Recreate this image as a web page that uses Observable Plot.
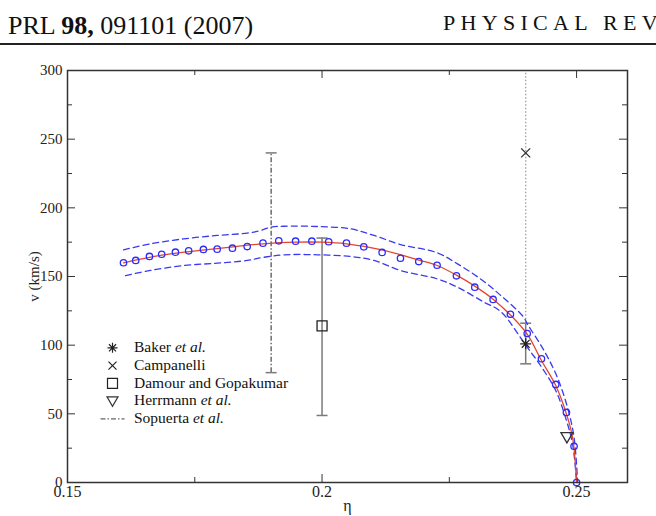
<!DOCTYPE html>
<html><head><meta charset="utf-8">
<script src="https://cdn.jsdelivr.net/npm/d3@7"></script>
<script src="https://cdn.jsdelivr.net/npm/@observablehq/plot@0.6"></script>
<style>
html,body{margin:0;padding:0;background:#fff;}
#wrap{position:relative;width:656px;height:516px;overflow:hidden;font-family:'Liberation Serif','Times New Roman',serif;color:#111;}
#wrap svg{position:absolute;left:0;top:0;}
#wrap svg, #wrap svg text, #wrap svg g{font-family:'Liberation Serif','Times New Roman',serif !important;}
.hdr1{position:absolute;left:8px;top:13px;font-size:26px;line-height:26px;white-space:nowrap;}
.hdr2{position:absolute;left:443px;top:12px;font-size:22px;line-height:22px;letter-spacing:5.3px;white-space:nowrap;}
.rule{position:absolute;left:0;top:43px;width:656px;height:2px;background:#222;}
.leg{position:absolute;left:134px;top:338px;font-size:15.5px;line-height:17.75px;white-space:nowrap;color:#111;font-family:'Liberation Serif','Times New Roman',serif !important;}
</style>
</head><body>
<div id="wrap">
  <div class="hdr1">PRL <b>98,</b> 091101 (2007)</div>
  <div class="hdr2">PHYSICAL REV</div>
  <div class="rule"></div>
</div>
<script>
// ---- data ----
const circEta = [0.1610,0.1634,0.1661,0.1685,0.1712,0.1738,0.1767,0.1794,0.1824,0.1853,0.1884,0.1915,0.1948,0.1980,0.2013,0.2048,0.2082,0.2118,0.2154,0.2190,0.2226,0.2264,0.2300,0.2336,0.2370,0.2403,0.2431,0.2459,0.2480,0.2495,0.2500];
const circV   = [160,161.7,164.6,166.2,167.7,168.7,169.7,169.9,170.6,171.8,174.3,176,175.7,175.7,175.3,174.3,171.6,167.5,163.3,160.9,158.2,150.5,142.2,133.3,122.5,108.5,90.1,71.4,51,26.4,0];

const fitEta = [0.1610,0.1685,0.1760,0.1830,0.1884,0.1948,0.2000,0.2048,0.2118,0.2190,0.2226,0.2264,0.2300,0.2336,0.2370,0.2403,0.2431,0.2459,0.2480,0.2492,0.2500];
const fitV   = [160,165.5,169,171.8,173.8,175,175,173.8,169.4,162,158,151,143,133.5,122,108,88.8,70.6,50,33,0];

const upEta = [0.1610,0.1663,0.1728,0.1794,0.1853,0.1879,0.1899,0.1925,0.1991,0.2056,0.2102,0.2154,0.2226,0.2266,0.2311,0.2351,0.2396,0.2403,0.2436,0.2462,0.2482,0.2495,0.2502];
const upV   = [169.4,173.8,177.4,179.9,181.6,183.5,185.9,186.6,186.4,184.7,179.9,173.3,167.3,159.2,148.3,136.2,120.4,115.6,96.1,76.7,54.8,33,0];

const loEta = [0.1614,0.1663,0.1728,0.1794,0.1853,0.1886,0.1925,0.1991,0.2056,0.2102,0.2154,0.2226,0.2266,0.2318,0.2351,0.2400,0.2429,0.2459,0.2478,0.2492,0.2500];
const loV   = [150.7,154.4,158,159.7,161.7,164,165.8,165.8,164.6,161.7,154.4,148.3,142.2,131.3,124.5,100,85.2,67,47.6,28.2,0];

// other results
const resNames = ["Baker et al.","Campanelli","Damour and Gopakumar","Herrmann et al.","Sopuerta et al."];
const resEta   = [0.24, 0.24, 0.20, 0.2481, 0.19];
const resV     = [101, 240, 114, 33, null];
const resLo    = [86.4, 116, 48.8, null, 80];
const resHi    = [116, 300, 178, null, 240];

const xMajor = [0.15, 0.2, 0.25];
const xMinor = [0.175, 0.225];
const yMajor = [0, 50, 100, 150, 200, 250, 300];
const yMinor = [25, 75, 125, 175, 225, 275];

// ---- layout ----
const W = 656, H = 516, mT = 70, mR = 29, mB = 34, mL = 67;
const fw = W - mL - mR, fh = H - mT - mB;
const serif = "'Liberation Serif', 'Times New Roman', serif";

const symFn = f => ({draw(ctx, size){ const r = Math.sqrt(size/Math.PI); f(ctx, r); }});
const capSym = symFn((c,r)=>{c.moveTo(-r,0);c.lineTo(r,0);});
const astSym = symFn((c,r)=>{const d=r*0.7071;c.moveTo(-r,0);c.lineTo(r,0);c.moveTo(0,-r);c.lineTo(0,r);c.moveTo(-d,-d);c.lineTo(d,d);c.moveTo(-d,d);c.lineTo(d,-d);});
const sqSym  = symFn((c,r)=>{c.moveTo(-r,-r);c.lineTo(r,-r);c.lineTo(r,r);c.lineTo(-r,r);c.closePath();});
const triSym = symFn((c,r)=>{c.moveTo(-r,-r*0.75);c.lineTo(r,-r*0.75);c.lineTo(0,r*0.95);c.closePath();});
const timesSym = symFn((c,r)=>{c.moveTo(-r,-r);c.lineTo(r,r);c.moveTo(-r,r);c.lineTo(r,-r);});
const lineSym = symFn((c,r)=>{c.moveTo(-r,0);c.lineTo(r,0);});

const circles = circEta.map((e,i)=>({eta:e, v:circV[i]}));
const fit = fitEta.map((e,i)=>({eta:e, v:fitV[i]}));
const up = upEta.map((e,i)=>({eta:e, v:upV[i]}));
const lo = loEta.map((e,i)=>({eta:e, v:loV[i]}));
const res = resNames.map((n,i)=>({name:n, eta:resEta[i], v:resV[i], lo:resLo[i], hi:resHi[i]}));

const grey = "#7a7a7a";
const baker = res[0], camp = res[1], damour = res[2], herr = res[3], sop = res[4];

// legend rows
const legY0 = 347.3 - (H - mB), legStep = 17.75, legDx = 45;
const legSyms = [
  {symbol: astSym, r: 5, stroke: "#222", sw: 1.2},
  {symbol: timesSym, r: 4, stroke: "#222", sw: 1.2},
  {symbol: sqSym, r: 5, stroke: "#222", sw: 1.2},
  {symbol: triSym, r: 5.5, stroke: "#333", sw: 1.2},
  {symbol: lineSym, r: 12, stroke: "#666", sw: 1.2, dash: "5,2,1.5,2"}
];
const legendMarks = legSyms.map((s,i)=>Plot.dot([0], {x: null, y: null, frameAnchor: "bottom-left", dx: legDx, dy: legY0 + i*legStep, symbol: s.symbol, r: s.r, stroke: s.stroke, strokeWidth: s.sw, strokeDasharray: s.dash}));

const chart = Plot.plot({
  width: W, height: H, marginTop: mT, marginRight: mR, marginBottom: mB, marginLeft: mL,
  x: {domain: [0.15, 0.26]},
  y: {domain: [0, 300]},
  style: {fontFamily: serif, fontSize: "16px", background: "transparent", color: "#222"},
  marks: [
    Plot.axisX({ticks: xMajor, tickSize: 0, tickPadding: 3, tickFormat: d => String(d), label: "η", labelAnchor: "center", labelOffset: 28, labelArrow: "none", fontFamily: serif}),
    Plot.axisY({ticks: yMajor, tickSize: 0, tickPadding: 5, tickFormat: d => String(d), label: "v (km/s)", labelAnchor: "center", labelOffset: 39, labelArrow: "none", fontSize: 15, fontFamily: serif}),
    // inward ticks
    Plot.tickX(xMajor, {x: d => d, insetTop: fh - 8, stroke: "#333"}),
    Plot.tickX(xMinor, {x: d => d, insetTop: fh - 5, stroke: "#333"}),
    Plot.tickX(xMajor, {x: d => d, insetBottom: fh - 8, stroke: "#333"}),
    Plot.tickX(xMinor, {x: d => d, insetBottom: fh - 5, stroke: "#333"}),
    Plot.tickY(yMajor, {y: d => d, insetRight: fw - 8, stroke: "#333"}),
    Plot.tickY(yMinor, {y: d => d, insetRight: fw - 5, stroke: "#333"}),
    Plot.tickY(yMajor, {y: d => d, insetLeft: fw - 8, stroke: "#333"}),
    Plot.tickY(yMinor, {y: d => d, insetLeft: fw - 5, stroke: "#333"}),
    // error bars
    Plot.ruleX([camp], {x: "eta", y1: "lo", y2: "hi", stroke: "#a5a5a5", strokeWidth: 1.4, strokeDasharray: "1.5,2"}),
    Plot.ruleX([sop], {x: "eta", y1: "lo", y2: "hi", stroke: "#555", strokeWidth: 1.3, strokeDasharray: "5,2,1.5,2"}),
    Plot.ruleX([damour, baker], {x: "eta", y1: "lo", y2: "hi", stroke: grey, strokeWidth: 1.5}),
    Plot.dot([sop, damour, baker], {x: "eta", y: "lo", symbol: capSym, r: 5.5, stroke: grey, strokeWidth: 1.5}),
    Plot.dot([sop, damour, baker], {x: "eta", y: "hi", symbol: capSym, r: 5.5, stroke: grey, strokeWidth: 1.5}),
    // bands and fit
    Plot.line(up, {x: "eta", y: "v", stroke: "#3a3af0", strokeWidth: 1.3, strokeDasharray: "6,4", curve: "catmull-rom"}),
    Plot.line(lo, {x: "eta", y: "v", stroke: "#3a3af0", strokeWidth: 1.3, strokeDasharray: "6,4", curve: "catmull-rom"}),
    Plot.line(fit, {x: "eta", y: "v", stroke: "#e2462f", strokeWidth: 1.3, curve: "catmull-rom"}),
    Plot.dot(circles, {x: "eta", y: "v", r: 3.2, stroke: "#2b2bff", strokeWidth: 1.3, fill: "none"}),
    // results
    Plot.dot([baker], {x: "eta", y: "v", symbol: astSym, r: 5.5, stroke: "#222", strokeWidth: 1.3}),
    Plot.dot([camp], {x: "eta", y: "v", symbol: timesSym, r: 4.5, stroke: "#333", strokeWidth: 1.3}),
    Plot.dot([damour], {x: "eta", y: "v", symbol: sqSym, r: 5, stroke: "#222", strokeWidth: 1.3, fill: "none"}),
    Plot.dot([herr], {x: "eta", y: "v", symbol: triSym, r: 6, stroke: "#333", strokeWidth: 1.3, fill: "none"}),
    ...legendMarks,
    Plot.frame({stroke: "#333", strokeWidth: 1.5})
  ]
});
const wrap = document.getElementById("wrap");
wrap.insertBefore(chart, wrap.firstChild);

const leg = document.createElement("div");
leg.className = "leg";
leg.innerHTML = "Baker <i>et al.</i><br>Campanelli<br>Damour and Gopakumar<br>Herrmann <i>et al.</i><br>Sopuerta <i>et al.</i>";
wrap.appendChild(leg);
</script>
</body></html>
